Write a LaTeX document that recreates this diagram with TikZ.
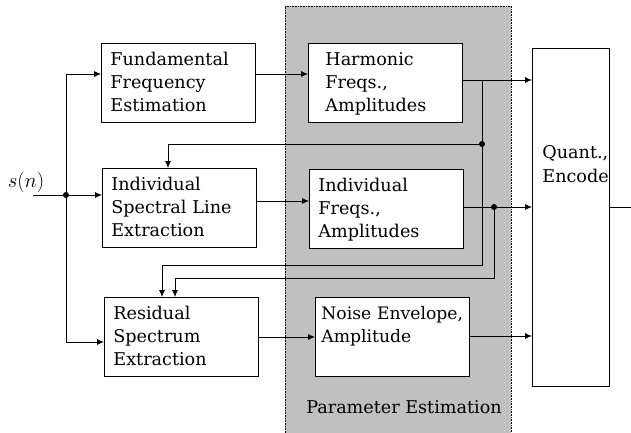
\documentclass[tikz,border=0pt]{standalone}
\usepackage{fontspec}
\setmainfont{DejaVu Serif}
\usetikzlibrary{arrows.meta}
\definecolor{panelgray}{HTML}{C0C0C0}
\tikzset{box/.style={rectangle,draw,fill=white,anchor=north west,align=left,text width=136pt,inner xsep=9pt,inner ysep=5pt,text height=17pt,text depth=52pt,font=\fontsize{17.6}{23}\selectfont},line/.style={-{Latex[length=7pt,width=6pt]}},dot/.style={circle,fill,inner sep=0pt,minimum size=6pt}}

\begin{document}
\begin{tikzpicture}[x=1pt,y=-1pt,line width=0.8pt]
\useasboundingbox (0,0) rectangle (631,433);
% parameter estimation panel
\fill[panelgray] (285,6) rectangle (511,433);
\draw[densely dotted,line width=0.6pt] (285,433) -- (285,6) -- (511,6) -- (511,433);
\node[font=\fontsize{17.6}{20}\selectfont] (pe) at (404,407) {Parameter Estimation};

\node[box] (ffe) at (101,43) {Fundamental\\Frequency\\Estimation};
\node[box,text width=120pt,inner xsep=17pt] (hfa) at (308,43) {Harmonic\\Freqs.,\\Amplitudes};
\node[box] (isle) at (102,168) {Individual\\Spectral Line\\Extraction};
\node[box] (ifa) at (309,169) {Individual\\Freqs.,\\Amplitudes};
\node[box] (rse) at (104,297) {Residual\\Spectrum\\Extraction};
\node[box,text width=142pt,inner xsep=6pt,font=\fontsize{17.2}{23}\selectfont] (nea) at (315,297) {\mbox{Noise Envelope,}\\Amplitude};
\node[box,text width=57pt,inner xsep=10pt,text height=105pt,text depth=223pt,font=\fontsize{17.6}{24}\selectfont] (quant) at (532,48) {Quant.,\\Encode};

\node[font=\fontsize{19.5}{22}\selectfont] (sn) at (26,182) {$s(n)$};
\coordinate (sin) at (33,195);
\coordinate (j0) at (66,195);
\coordinate (out) at (631,207);

% input bus
\draw[line] (sin) -- (isle.west |- j0);
\draw[line] (j0) |- (ffe.west |- 0,74);
\draw[line] (j0) |- (rse.west |- 0,342);
\node[dot] (n0) at (j0) {};

% forward paths
\draw[line] (ffe.east |- 0,74) -- (hfa.west |- 0,74);
\draw[line] (hfa.east |- 0,80) -- (quant.west |- 0,80);
\draw[line] (isle.east |- 0,201) -- (ifa.west |- 0,201);
\draw[line] (ifa.east |- 0,207) -- (quant.west |- 0,207);
\draw[line] (rse.east |- 0,337) -- (nea.west |- 0,337);
\draw[line] (nea.east |- 0,336) -- (quant.west |- 0,336);
\draw (quant.east |- out) -- (out);

% feedback paths
\coordinate (b1) at (482,80);
\coordinate (b2) at (482,144);
\coordinate (b3) at (494,207);
\draw[line] (b1) -- (482,265) -| (rse.north -| 162,0);
\draw[line] (b2) -| (isle.north -| 168,0);
\draw[line] (b3) -- (494,278) -| (rse.north -| 175,0);
\node[dot] (n1) at (b2) {};
\node[dot] (n2) at (b3) {};
\end{tikzpicture}
\end{document}
